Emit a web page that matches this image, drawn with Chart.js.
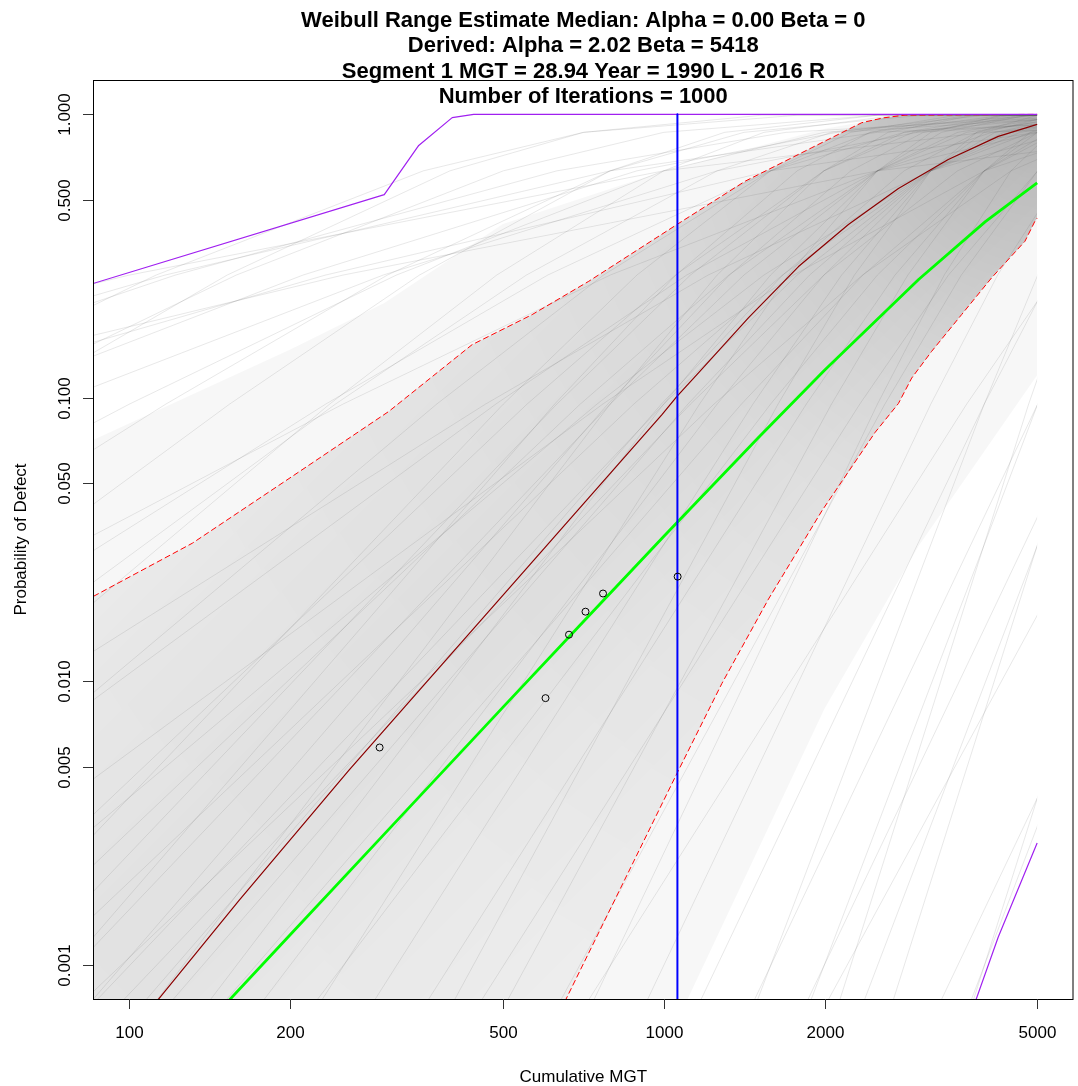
<!DOCTYPE html>
<html>
<head>
<meta charset="utf-8">
<script src="https://cdn.jsdelivr.net/npm/chart.js@4.4.0/dist/chart.umd.min.js"></script>
<style>
html,body{margin:0;padding:0;background:#ffffff;}
#wrap{width:1078px;height:1086px;}
</style>
</head>
<body>
<div id="wrap"><canvas id="c" width="1078" height="1086"></canvas></div>
<script>
// ---------------- data ----------------
const titleLines = [
  'Weibull Range Estimate Median: Alpha = 0.00 Beta = 0',
  'Derived: Alpha = 2.02 Beta = 5418',
  'Segment 1 MGT = 28.94 Year = 1990 L - 2016 R',
  'Number of Iterations = 1000'
];
const xAxisTitle = 'Cumulative MGT';
const yAxisTitle = 'Probability of Defect';
const xTickValues = [100, 200, 500, 1000, 2000, 5000];
const xTickLabels = ['100', '200', '500', '1000', '2000', '5000'];
const yTickValues = [0.001, 0.005, 0.01, 0.05, 0.1, 0.5, 1];
const yTickLabels = ['0.001', '0.005', '0.010', '0.050', '0.100', '0.500', '1.000'];
const xRange = [85.5, 5848];
const yRange = [0.000757, 1.322];
const lastMGT = 5000;

// observed defects
const obsX = [294, 601, 665, 714, 770, 1062];
const obsY = [0.00584, 0.00872, 0.0146, 0.0176, 0.0204, 0.0234];

// current MGT (blue vertical)
const blueX = [1061, 1061];
const blueY = [1.0, 0.0005];

// purple envelopes
const purpleX = [80, 85.5, 300, 348, 402, 441, 5000];
const purpleY = [0.243, 0.253, 0.521, 0.777, 0.974, 1.0, 1.0];
const purple2X = [3790, 4227, 5000];
const purple2Y = [0.0007, 0.00125, 0.00269];

// derived Weibull fit (green)
const greenX = [150, 200, 300, 500, 700, 1000, 1500, 2000, 3000, 4000, 5000];
const greenY = [0.000713, 0.001275, 0.00289, 0.00809, 0.0159, 0.0324, 0.072, 0.1251, 0.2615, 0.4183, 0.5728];

// median of iterations (dark red)
const medianX = [109.4, 113, 160.6, 257.7, 616.6, 992.7, 1059, 1163, 1442, 1788, 2217, 2750, 3409, 4229, 5000];
const medianY = [0.0007, 0.00075, 0.00169, 0.00486, 0.0315, 0.0872, 0.1012, 0.1227, 0.1918, 0.2904, 0.4088, 0.5479, 0.6934, 0.8361, 0.9219];

// upper / lower bounds (red dashed)
const upperX = [80, 85.5, 131.2, 201.7, 305.8, 438, 567.3, 724.1, 1059, 1421, 1893, 2348, 2577, 2830, 5000];
const upperY = [0.0186, 0.0199, 0.0307, 0.0528, 0.0895, 0.154, 0.1966, 0.2577, 0.4088, 0.5812, 0.7627, 0.9347, 0.972, 0.994, 1.0];
const lowerX = [589, 656, 1067, 1285, 1571, 1977, 2487, 2750, 2912, 3173, 3611, 4109, 4744, 4953, 5000];
const lowerY = [0.0005, 0.000754, 0.00487, 0.00982, 0.0195, 0.0399, 0.0755, 0.0955, 0.1174, 0.1458, 0.1966, 0.265, 0.3567, 0.4199, 0.43];
const floorX = 80;
const floorY = 0.0005;

// faint outer halo of the iteration cloud
const haloTopX = [80, 85.5, 200, 300, 500, 1000, 2000, 2830, 5000];
const haloTopY = [0.068, 0.071, 0.148, 0.216, 0.41, 0.63, 0.89, 1.0, 1.0];
const haloBottomX = [80, 1000, 2000, 3000, 5000];
const haloBottomY = [0.0005, 0.0005, 0.008, 0.03, 0.12];

// sample of the iteration curves: x where each curve reaches these probability levels
const grayLevels = [0.0005, 0.095, 0.271, 0.632, 0.864, 0.993, 1.0];
const grayCurveX = [
  [0.000251, 10, 100, 1000, 3981, 25119, 100000],
  [0.00251, 17.1, 116.6, 794, 2512, 11670, 100000],
  [0.0122, 23.5, 121.9, 631, 1694, 6310, 100000],
  [0.0668, 50.1, 211.3, 891, 2113, 6683, 100000],
  [0.00501, 34.1, 232.8, 1585, 5012, 23280, 100000],
  [0.251, 50.1, 158.5, 501, 1000, 2512, 100000],
  [0.0944, 70.8, 298.5, 1259, 2985, 9441, 100000],
  [0.00063, 25.1, 251, 2512, 10000, 63096, 100000],
  [0.178, 35.5, 112.2, 355, 707.9, 1778, 100000],
  [0.708, 58.5, 152.4, 398, 707.9, 1524, 100000],
  [2.82, 233, 606.7, 1585, 2818, 6067, 100000],
  [1.26, 251, 794, 2512, 5012, 12589, 100000],
  [5.53, 243, 553.4, 1259, 2061, 3981, 100000],
  [5.62, 464, 1211, 3162, 5623, 12106, 100000],
  [13.7, 376, 771.6, 1585, 2441, 4341, 100000],
  [11.0, 485, 1104, 2512, 4111, 7943, 100000],
  [0.501, 100, 316, 1000, 1995, 5012, 100000],
  [1.41, 117, 304, 794, 1413, 3041, 100000],
  [27.4, 750, 1540, 3162, 4870, 8660, 100000],
  [17.5, 769, 1750, 3981, 6516, 12589, 100000],
  [8.66, 237, 487, 1000, 1540, 2738, 100000],
  [3.49, 154, 349, 794, 1300, 2512, 100000],
  [29.3, 555, 1052, 1995, 2931, 4887, 100000],
  [46.5, 879, 1667, 3162, 4645, 7745, 100000],
  [56.2, 794, 1413, 2512, 3548, 5623, 100000],
  [79.4, 1122, 1995, 3548, 5012, 7943, 100000],
  [89.1, 990, 1671, 2818, 3855, 5861, 100000],
  [125.9, 1398, 2360, 3981, 5445, 8279, 100000],
  [151.4, 1259, 1995, 3162, 4169, 6026, 100000],
  [120.2, 1000, 1585, 2512, 3311, 4786, 100000],
  [44.7, 631, 1122, 1995, 2818, 4467, 100000],
  [70.8, 786, 1327, 2239, 3062, 4656, 100000],
  [65.6, 1242, 2355, 4467, 6561, 10940, 100000],
  [190.5, 1585, 2512, 3981, 5248, 7586, 100000],
  [70.8, 1000, 1778, 3162, 4467, 7079, 100000],
  [100, 1110, 1875, 3162, 4325, 6577, 100000],
  [36.9, 698, 1324, 2512, 3690, 6152, 100000],
  [35.5, 501, 891, 1585, 2239, 3548, 100000],
  [56.2, 625, 1054, 1778, 2432, 3698, 100000],
  [95.5, 794, 1259, 1995, 2630, 3802, 100000],
  [251, 1469, 2153, 3162, 3981, 5408, 100000],
  [316, 1849, 2710, 3981, 5012, 6808, 100000],
  [454, 2061, 2864, 3981, 4853, 6310, 100000],
  [571, 2594, 3606, 5012, 6109, 7943, 100000],
  [668, 2512, 3350, 4467, 5309, 6683, 100000],
  [398, 2328, 3412, 5012, 6310, 8570, 100000],
  [841, 3162, 4217, 5623, 6683, 8414, 100000],
  [200, 1167, 1710, 2512, 3162, 4295, 100000],
  [361, 1637, 2275, 3162, 3855, 5012, 100000],
  [1059, 3981, 5309, 7079, 8414, 10593, 100000],
  [1380, 3981, 5012, 6310, 7244, 8710, 100000],
  [1738, 5012, 6310, 7943, 9120, 10965, 100000],
  [1995, 4820, 5848, 7079, 7943, 9268, 100000],
  [1334, 5012, 6683, 8913, 10593, 13335, 100000],
  [2188, 6310, 7943, 10000, 11482, 13804, 100000],
  [2512, 6067, 7362, 8913, 10000, 11670, 100000],
  [1679, 6310, 8414, 11220, 13335, 16788, 100000],
  [3467, 10000, 12589, 15849, 18197, 21878, 100000],
  [2985, 11220, 14962, 19953, 23714, 29854, 100000],
  [3548, 8570, 10399, 12589, 14125, 16482, 100000],
  [1807, 8204, 11402, 15849, 19320, 25119, 100000],
  [631, 3690, 5408, 7943, 10000, 13583, 100000]
];

// ---------------- chart ----------------
function pts(xs, ys) { return xs.map((x, i) => ({ x: x, y: ys[i] })); }

// density of the iteration cloud: darkest where the curves converge (top right)
function radialShade(ctx) {
  const ch = ctx.chart;
  if (!ch.chartArea || !ch.scales.x) return 'rgba(0,0,0,0.06)';
  const cx = ch.scales.x.getPixelForValue(lastMGT);
  const cy = ch.scales.y.getPixelForValue(1);
  const g = ch.ctx.createRadialGradient(cx, cy, 0, cx, cy, 1300);
  g.addColorStop(0, 'rgba(0,0,0,0.26)');
  g.addColorStop(0.05, 'rgba(0,0,0,0.205)');
  g.addColorStop(0.18, 'rgba(0,0,0,0.125)');
  g.addColorStop(0.32, 'rgba(0,0,0,0.075)');
  g.addColorStop(0.47, 'rgba(0,0,0,0.055)');
  g.addColorStop(0.7, 'rgba(0,0,0,0.04)');
  g.addColorStop(1, 'rgba(0,0,0,0.03)');
  return g;
}
// across the band: densest a little above the median curve
function crossShade(ctx) {
  const ch = ctx.chart;
  if (!ch.chartArea) return 'rgba(0,0,0,0.03)';
  const g = ch.ctx.createLinearGradient(300, 300, 800, 800);
  g.addColorStop(0, 'rgba(0,0,0,0)');
  g.addColorStop(0.2, 'rgba(0,0,0,0.03)');
  g.addColorStop(0.4, 'rgba(0,0,0,0.05)');
  g.addColorStop(0.55, 'rgba(0,0,0,0.05)');
  g.addColorStop(0.7, 'rgba(0,0,0,0.025)');
  g.addColorStop(1, 'rgba(0,0,0,0)');
  return g;
}

const datasets = [];
datasets.push({ data: pts(obsX, obsY), showLine: false, pointRadius: 3.5, pointHoverRadius: 3.5,
  pointBorderColor: '#000000', pointBackgroundColor: 'rgba(0,0,0,0)', pointBorderWidth: 1, order: 0 });
datasets.push({ data: pts(blueX, blueY), borderColor: '#0000ff', borderWidth: 2, order: 1 });
datasets.push({ data: pts(purpleX, purpleY), borderColor: '#a020f0', borderWidth: 1.2, order: 2 });
datasets.push({ data: pts(purple2X, purple2Y), borderColor: '#a020f0', borderWidth: 1.2, order: 2 });
datasets.push({ data: pts(greenX, greenY), borderColor: '#00ff00', borderWidth: 2.8, order: 3 });
datasets.push({ data: pts(medianX, medianY), borderColor: '#8b0000', borderWidth: 1.2, order: 4 });
datasets.push({ data: pts(upperX, upperY), borderColor: '#ff0000', borderWidth: 1, borderDash: [6, 3], order: 5 });
datasets.push({ data: pts(lowerX, lowerY), borderColor: '#ff0000', borderWidth: 1, borderDash: [6, 3], order: 5 });
grayCurveX.forEach(row => {
  datasets.push({ data: pts(row, grayLevels), borderColor: 'rgba(80,80,80,0.13)', borderWidth: 1, order: 20, isGray: true });
});
const bandBottomX = [floorX].concat(lowerX);
const bandBottomY = [floorY].concat(lowerY);
const noLine = { borderColor: 'rgba(0,0,0,0)', borderWidth: 0 };
datasets.push(Object.assign({ data: pts(upperX, upperY), fill: '+1', backgroundColor: radialShade, order: 30 }, noLine));
datasets.push(Object.assign({ data: pts(bandBottomX, bandBottomY), fill: false, order: 31 }, noLine));
datasets.push(Object.assign({ data: pts(upperX, upperY), fill: '+1', backgroundColor: crossShade, order: 32 }, noLine));
datasets.push(Object.assign({ data: pts(bandBottomX, bandBottomY), fill: false, order: 33 }, noLine));
datasets.push(Object.assign({ data: pts(haloTopX, haloTopY), fill: '+1', backgroundColor: 'rgba(0,0,0,0.03)', order: 34 }, noLine));
datasets.push(Object.assign({ data: pts(haloBottomX, haloBottomY), fill: false, order: 35 }, noLine));

const FONT = '"Liberation Sans", Arial, sans-serif';

const decor = {
  id: 'decor',
  afterDraw(chart) {
    const c = chart.ctx, a = chart.chartArea, xs = chart.scales.x, ys = chart.scales.y;
    c.save();
    c.strokeStyle = '#000000';
    c.lineWidth = 1;
    c.strokeRect(a.left + 0.5, a.top + 0.5, a.right - a.left - 1, a.bottom - a.top);
    c.strokeStyle = '#333333';
    c.fillStyle = '#000000';
    c.font = '17px ' + FONT;
    c.textAlign = 'center';
    c.textBaseline = 'alphabetic';
    xTickValues.forEach((v, i) => {
      const px = Math.round(xs.getPixelForValue(v)) + 0.5;
      c.beginPath(); c.moveTo(px, a.bottom); c.lineTo(px, a.bottom + 10); c.stroke();
      c.fillText(xTickLabels[i], px, a.bottom + 39);
    });
    yTickValues.forEach((v, i) => {
      const py = Math.round(ys.getPixelForValue(v)) + 0.5;
      c.beginPath(); c.moveTo(a.left - 10, py); c.lineTo(a.left, py); c.stroke();
      c.save(); c.translate(a.left - 23.5, py); c.rotate(-Math.PI / 2);
      c.fillText(yTickLabels[i], 0, 0); c.restore();
    });
    const midX = (a.left + a.right) / 2;
    const midY = (a.top + a.bottom) / 2;
    c.fillText(xAxisTitle, midX, a.bottom + 82.5);
    c.save(); c.translate(26, midY); c.rotate(-Math.PI / 2); c.fillText(yAxisTitle, 0, 0); c.restore();
    c.font = 'bold 22px ' + FONT;
    const base = [26.5, 52, 77.5, 103];
    titleLines.forEach((t, i) => c.fillText(t, midX, base[i]));
    c.restore();
  }
};

const chart = new Chart(document.getElementById('c'), {
  type: 'line',
  data: { datasets: datasets },
  options: {
    responsive: false,
    devicePixelRatio: 1,
    animation: false,
    events: [],
    layout: { padding: { left: 93, top: 80, right: 4, bottom: 87 } },
    elements: { point: { radius: 0 }, line: { tension: 0, borderJoinStyle: 'round' } },
    plugins: {
      legend: { display: false },
      tooltip: { enabled: false },
      title: { display: false },
      filler: { drawTime: 'beforeDatasetsDraw' }
    },
    scales: {
      x: { type: 'logarithmic', min: xRange[0], max: xRange[1], display: false },
      y: { type: 'logarithmic', min: yRange[0], max: yRange[1], display: false }
    }
  },
  plugins: [decor]
});

// iteration curves stop at the last MGT value, like the bounds
const gap = chart.chartArea.right - chart.scales.x.getPixelForValue(lastMGT);
chart.data.datasets.forEach(d => { if (d.isGray) d.clip = { left: 0, top: 0, right: -gap, bottom: 0 }; });
chart.update('none');
</script>
</body>
</html>
